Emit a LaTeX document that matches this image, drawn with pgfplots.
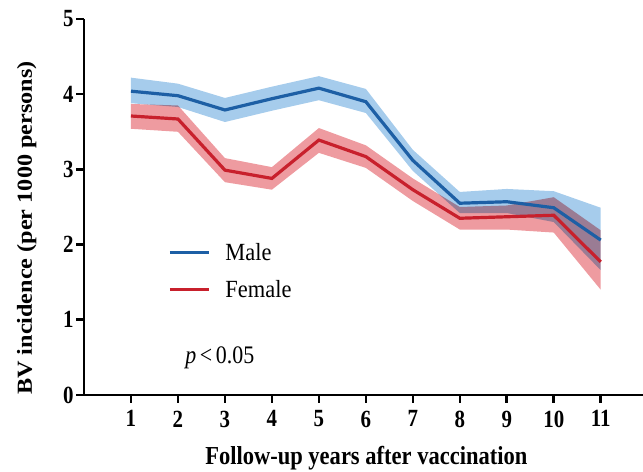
\documentclass[border=0pt]{standalone}
\usepackage{fontspec}
\setmainfont{Liberation Serif}
\usepackage{pgfplots}
\pgfplotsset{compat=1.18}
\usepgfplotslibrary{fillbetween}
\definecolor{mline}{RGB}{29,95,165}
\definecolor{fline}{RGB}{200,32,44}
\definecolor{mband}{RGB}{166,204,236}
\definecolor{fband}{RGB}{238,155,160}
\begin{document}
\begin{tikzpicture}
\begin{axis}[
  scale only axis, width=559bp, height=376bp,
  xmin=0, xmax=11.9, ymin=0, ymax=5,
  axis lines*=left,
  axis line style={line width=2.8bp, black},
  xtick={1,2,3,4,5,6,7,8,9,10,11}, ytick={0,1,2,3,4,5},
  tick style={line width=2.6bp, black},
  major tick length=8bp, tick align=outside,
  /pgf/number format/assume math mode=true,
  ticklabel style={font=\fontsize{21}{24}\selectfont\bfseries, yscale=1.18},
  xticklabel style={yshift=-3bp},
  yticklabel style={xshift=1bp},
  xlabel={Follow-up years after vaccination},
  ylabel={BV incidence (per 1000 persons)},
  label style={font=\fontsize{21.5}{24}\selectfont\bfseries},
  xlabel style={at={(axis description cs:0.505,-0.186)}, anchor=base, yscale=1.15, font=\fontsize{22.6}{24}\selectfont\bfseries},
  ylabel style={at={(axis description cs:-0.079,0.444)}, anchor=south, xscale=1.13},
  legend style={draw=none, fill=none, at={(axis cs:1.79,2.05)}, anchor=north west,
    font=\fontsize{22.5}{26}\selectfont, row sep=14bp, inner sep=0pt,
    nodes={yscale=1.1}},
  legend cell align=left,
  legend image code/.code={\draw[line width=3.2bp, #1] (0bp,0bp) -- (39bp,0bp); \path (52bp,0bp);},
]
\coordinate (axsw) at (rel axis cs:0,0);
\coordinate (axne) at (rel axis cs:1,1);
% Female band
\addplot[name path=fu, draw=none, forget plot] coordinates {
 (1,3.87) (2,3.85) (3,3.15) (4,3.03) (5,3.55) (6,3.32) (7,2.88) (8,2.50) (9,2.52) (10,2.63) (11,2.19)};
\addplot[name path=fl, draw=none, forget plot] coordinates {
 (1,3.54) (2,3.50) (3,2.83) (4,2.73) (5,3.22) (6,3.02) (7,2.58) (8,2.20) (9,2.20) (10,2.16) (11,1.40)};
% Male band
\addplot[name path=mu, draw=none, forget plot] coordinates {
 (1,4.22) (2,4.14) (3,3.95) (4,4.10) (5,4.24) (6,4.07) (7,3.26) (8,2.70) (9,2.74) (10,2.71) (11,2.49)};
\addplot[name path=ml, draw=none, forget plot] coordinates {
 (1,3.88) (2,3.83) (3,3.63) (4,3.78) (5,3.92) (6,3.75) (7,2.98) (8,2.42) (9,2.42) (10,2.30) (11,1.66)};
\addplot[fill=mband, draw=none, forget plot, blend mode=multiply] fill between[of=mu and ml];
\addplot[fill=fband, draw=none, forget plot, blend mode=multiply] fill between[of=fu and fl];
% lines
\addplot[mline, line width=3.2bp] coordinates {
 (1,4.04) (2,3.98) (3,3.79) (4,3.94) (5,4.08) (6,3.90) (7,3.12) (8,2.55) (9,2.57) (10,2.49) (11,2.06)};
\addlegendentry{Male}
\addplot[fline, line width=3.2bp] coordinates {
 (1,3.71) (2,3.67) (3,2.99) (4,2.88) (5,3.39) (6,3.17) (7,2.73) (8,2.35) (9,2.37) (10,2.39) (11,1.77)};
\addlegendentry{Female}
\node[font=\fontsize{22}{24}\selectfont, yscale=1.15] at (axis cs:2.89,0.49) {\textit{p}\,<\,0.05};
\end{axis}
\path (axsw) ++(-84bp,-77bp) coordinate (bl);
\path (axne) ++(0bp,19bp) coordinate (tr);
\pgfresetboundingbox
\useasboundingbox (bl) rectangle (tr);
\end{tikzpicture}
\end{document}
